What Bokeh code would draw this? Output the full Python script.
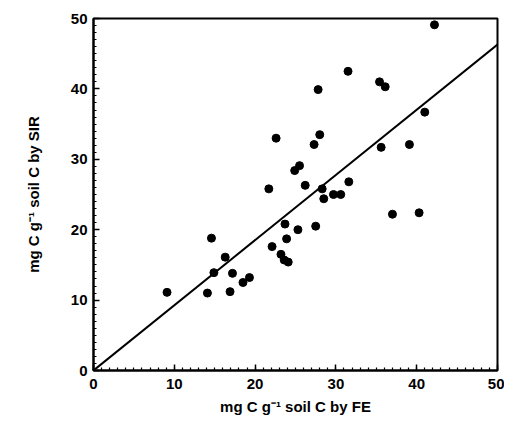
from bokeh.plotting import figure
from bokeh.models import Range1d, SingleIntervalTicker
from bokeh.embed import file_html
from bokeh.resources import INLINE

# Data
fe = [9.1, 14.1, 14.6, 14.9, 16.3, 16.9, 17.2, 18.5, 19.3, 21.7,
      22.1, 22.6, 23.2, 23.6, 24.1, 23.7, 23.9, 25.3, 24.9, 25.5,
      26.2, 27.3, 27.5, 27.8, 28.0, 28.3, 28.5, 29.7, 30.6, 31.5,
      31.6, 35.4, 35.6, 36.1, 37.0, 39.1, 40.3, 41.0, 42.2]
sir = [11.1, 11.0, 18.8, 13.9, 16.1, 11.2, 13.8, 12.5, 13.2, 25.8,
       17.6, 33.0, 16.5, 15.7, 15.4, 20.8, 18.7, 20.0, 28.4, 29.1,
       26.3, 32.1, 20.5, 39.9, 33.5, 25.8, 24.4, 25.0, 25.0, 42.5,
       26.8, 41.0, 31.7, 40.3, 22.2, 32.1, 22.4, 36.7, 49.1]
fit_x = [0, 50]
fit_y = [0, 46.3]

p = figure(width=504, height=425, output_backend="svg", toolbar_location=None,
           x_range=Range1d(0, 50), y_range=Range1d(0, 50),
           min_border_left=93, min_border_right=7, min_border_top=18, min_border_bottom=55)

p.line(fit_x, fit_y, line_color="black", line_width=2)
p.scatter(fe, sir, size=8, color="black")

p.grid.visible = False
p.outline_line_color = "black"
p.outline_line_width = 2

for ax in (p.xaxis[0], p.yaxis[0]):
    ax.ticker = SingleIntervalTicker(interval=10, num_minor_ticks=10)
    ax.axis_line_width = 2
    ax.axis_line_color = "black"
    ax.major_tick_in = 6
    ax.major_tick_out = 0
    ax.minor_tick_in = 3
    ax.minor_tick_out = 0
    ax.major_tick_line_width = 1.5
    ax.minor_tick_line_width = 1.2
    ax.major_label_text_font = "Liberation Sans"
    ax.major_label_text_font_style = "bold"
    ax.major_label_text_font_size = "15px"
    ax.major_label_text_color = "black"
    ax.axis_label_text_font = "Liberation Sans"
    ax.axis_label_text_font_style = "bold"
    ax.axis_label_text_font_size = "15px"
    ax.axis_label_text_color = "black"

p.xaxis.axis_label = "mg C g⁻¹ soil C by FE"
p.yaxis.axis_label = "mg C g⁻¹ soil C by SIR"
p.xaxis.major_label_standoff = 8
p.xaxis.axis_label_standoff = 6
p.yaxis.major_label_standoff = 6
p.yaxis.axis_label_standoff = 26

open("out.html", "w").write(file_html(p, INLINE))
